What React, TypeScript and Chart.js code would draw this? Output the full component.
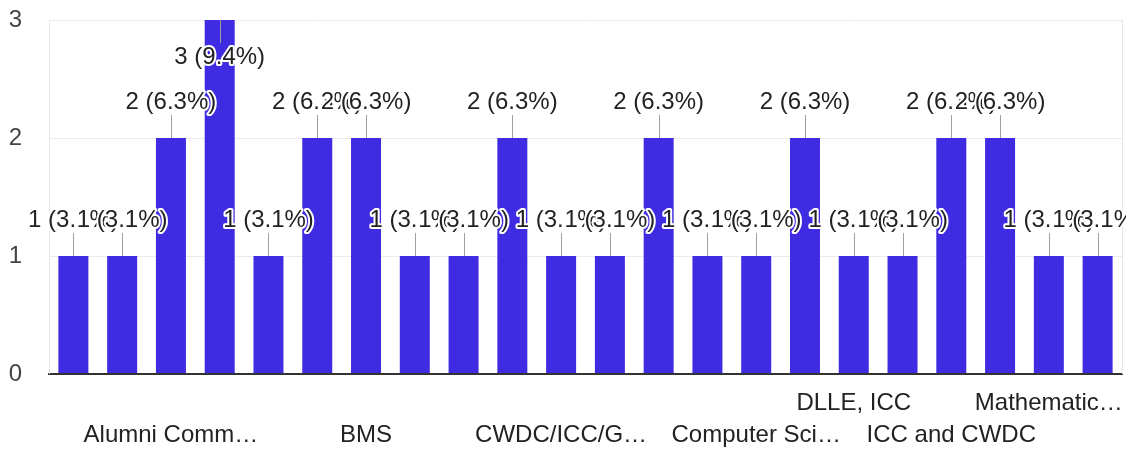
import React, { useEffect, useRef } from "react";
import { Chart, registerables } from "chart.js";

Chart.register(...registerables);

const categories: string[] = [
  "c1", "c2", "Alumni Comm…", "c4", "c5", "c6", "BMS", "c8", "c9", "c10",
  "CWDC/ICC/G…", "c12", "c13", "c14", "Computer Sci…", "c16", "DLLE, ICC", "c18",
  "ICC and CWDC", "c20", "Mathematic…", "c22",
];
const values: number[] = [1, 1, 2, 3, 1, 2, 2, 1, 1, 2, 1, 1, 2, 1, 1, 2, 1, 1, 2, 2, 1, 1];
// 0 = hidden tick label, 1 = first row, 2 = second row
const tickRows: number[] = [0, 0, 2, 0, 0, 0, 2, 0, 0, 0, 2, 0, 0, 0, 2, 0, 1, 0, 2, 0, 1, 0];
const yTicks: number[] = [0, 1, 2, 3];

const FONT = '"Liberation Sans", Arial, sans-serif';

export default function App() {
  const ref = useRef<HTMLCanvasElement | null>(null);
  useEffect(() => {
    if (!ref.current) return;
    const total = values.reduce((a, b) => a + b, 0);
    const yMax = yTicks[yTicks.length - 1];

    const labelPlugin = {
      id: "barLabels",
      afterDatasetsDraw(chart: any) {
        const ctx = chart.ctx;
        const meta = chart.getDatasetMeta(0);
        const items = meta.data.map((el: any, i: number) => {
          const v = values[i];
          const top = el.y;
          const inside = v >= yMax;
          return {
            x: el.x,
            l1: top,
            l2: inside ? top + 23 : top - 23,
            ty: inside ? top + 37 : top - 36,
            text: `${v} (${((v / total) * 100).toFixed(1)}%)`,
          };
        });
        ctx.save();
        ctx.strokeStyle = "#9e9e9e";
        ctx.lineWidth = 1;
        items.forEach((it: any) => {
          ctx.beginPath();
          ctx.moveTo(Math.round(it.x) + 0.5, it.l1);
          ctx.lineTo(Math.round(it.x) + 0.5, it.l2);
          ctx.stroke();
        });
        ctx.font = `24px ${FONT}`;
        ctx.textAlign = "center";
        ctx.textBaseline = "middle";
        ctx.lineJoin = "round";
        items.forEach((it: any) => {
          ctx.strokeStyle = "#ffffff";
          ctx.lineWidth = 4;
          ctx.strokeText(it.text, it.x, it.ty);
          ctx.fillStyle = "#222222";
          ctx.fillText(it.text, it.x, it.ty);
        });
        ctx.restore();
      },
    };

    const framePlugin = {
      id: "frame",
      beforeDatasetsDraw(chart: any) {
        const { ctx, chartArea } = chart;
        ctx.save();
        ctx.strokeStyle = "#e6e6e6";
        ctx.lineWidth = 1;
        [chartArea.left, chartArea.right].forEach((x: number) => {
          ctx.beginPath();
          ctx.moveTo(Math.round(x) + 0.5, chartArea.top);
          ctx.lineTo(Math.round(x) + 0.5, chartArea.bottom);
          ctx.stroke();
        });
        ctx.restore();
      },
    };

    const chart = new Chart(ref.current, {
      type: "bar",
      data: {
        labels: categories,
        datasets: [
          {
            data: values,
            backgroundColor: "#3f2be1",
            borderWidth: 0,
            categoryPercentage: 1,
            barPercentage: 0.615,
          },
        ],
      },
      options: {
        responsive: false,
        animation: false,
        layout: { padding: { top: 20, right: 4, left: 0, bottom: 0 } },
        plugins: {
          legend: { display: false },
          tooltip: { enabled: false },
        },
        scales: {
          x: {
            grid: { display: false, drawTicks: false },
            border: { display: true, color: "#333333", width: 2 },
            ticks: {
              autoSkip: false,
              maxRotation: 0,
              padding: 13,
              color: "#222222",
              font: { family: FONT, size: 24, lineHeight: "32px" },
              callback: (_v: any, i: number) => {
                const r = tickRows[i];
                if (r === 1) return categories[i];
                if (r === 2) return ["", categories[i]];
                return "";
              },
            },
            afterFit: (s: any) => {
              s.height = 75;
              s.paddingLeft = 0;
              s.paddingRight = 0;
            },
          },
          y: {
            min: 0,
            max: yMax,
            grid: {
              drawTicks: false,
              color: (c: any) => (c.tick && c.tick.value === 0 ? "#333333" : "#ebebeb"),
              lineWidth: (c: any) => (c.tick && c.tick.value === 0 ? 2 : 1),
            },
            border: { display: false },
            afterBuildTicks: (s: any) => {
              s.ticks = yTicks.map((v) => ({ value: v }));
            },
            ticks: {
              padding: 27,
              color: "#444444",
              font: { family: FONT, size: 24 },
            },
            afterFit: (s: any) => {
              s.width = 49;
              s.paddingTop = 0;
              s.paddingBottom = 0;
            },
          },
        },
      },
      plugins: [framePlugin, labelPlugin],
    });
    return () => chart.destroy();
  }, []);

  return (
    <div style={{ position: "absolute", left: 0, top: 0, width: 1126, height: 449, background: "#fff" }}>
      <canvas ref={ref} width={1126} height={449} />
    </div>
  );
}
